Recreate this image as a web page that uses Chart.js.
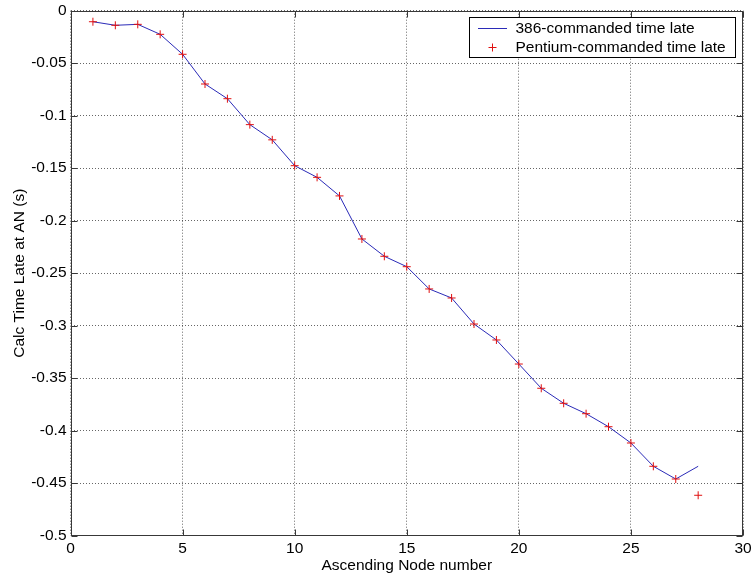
<!DOCTYPE html>
<html>
<head>
<meta charset="utf-8">
<script src="https://cdn.jsdelivr.net/npm/chart.js@4/dist/chart.umd.min.js"></script>
<style>
  html, body { margin: 0; padding: 0; background: #ffffff; }
  #c { display: block; }
</style>
</head>
<body>
<canvas id="c" width="751" height="579"></canvas>
<script>
// ---- Data ----
const nodeNumbers = [1,2,3,4,5,6,7,8,9,10,11,12,13,14,15,16,17,18,19,20,21,22,23,24,25,26,27,28];
const late386 = [-0.0105,-0.0139,-0.0130,-0.0225,-0.0415,-0.0698,-0.0838,-0.1085,-0.1230,-0.1476,
                 -0.1587,-0.1764,-0.2174,-0.2339,-0.2438,-0.2650,-0.2736,-0.2984,-0.3136,-0.3365,
                 -0.3596,-0.3739,-0.3838,-0.3962,-0.4117,-0.4339,-0.4460,-0.4339];
const latePentium = [-0.0105,-0.0139,-0.0130,-0.0225,-0.0415,-0.0698,-0.0838,-0.1085,-0.1230,-0.1476,
                 -0.1587,-0.1764,-0.2174,-0.2339,-0.2438,-0.2650,-0.2736,-0.2984,-0.3136,-0.3365,
                 -0.3596,-0.3739,-0.3838,-0.3962,-0.4117,-0.4339,-0.4460,-0.4615];
const xTickValues = [0,5,10,15,20,25,30];
const xTickLabels = ['0','5','10','15','20','25','30'];
const yTickValues = [0,-0.05,-0.1,-0.15,-0.2,-0.25,-0.3,-0.35,-0.4,-0.45,-0.5];
const yTickLabels = ['0','-0.05','-0.1','-0.15','-0.2','-0.25','-0.3','-0.35','-0.4','-0.45','-0.5'];
const seriesNames = ['386-commanded time late','Pentium-commanded time late'];
const xTitle = 'Ascending Node number';
const yTitle = 'Calc Time Late at AN (s)';

const FONT = 'Liberation Sans, Arial, sans-serif';
const FSIZE = 15.5;
const LINE_COLOR = '#2b2bb8';
const MARK_COLOR = '#e01010';
const AXIS_COLOR = '#383838';

const toPoints = (xs, ys) => xs.map((x, i) => ({x: x, y: ys[i]}));

// Box + inward ticks (MATLAB-like)
const boxPlugin = {
  id: 'boxPlugin',
  beforeDraw(chart) {
    const ctx = chart.ctx;
    ctx.save();
    ctx.fillStyle = '#ffffff';
    ctx.fillRect(0, 0, chart.width, chart.height);
    ctx.restore();
  },
  afterDatasetsDraw(chart) {
    const {ctx, chartArea: a, scales} = chart;
    ctx.save();
    ctx.strokeStyle = AXIS_COLOR;
    ctx.lineWidth = 1;
    const L = Math.round(a.left) + 0.5, R = Math.round(a.right) - 0.5;
    const T = Math.round(a.top) + 0.5, B = Math.round(a.bottom) - 0.5;
    ctx.strokeRect(L, T, R - L, B - T);
    const tl = 6;
    ctx.beginPath();
    xTickValues.forEach(v => {
      const px = Math.round(scales.x.getPixelForValue(v)) + 0.5;
      ctx.moveTo(px, B); ctx.lineTo(px, B - tl);
      ctx.moveTo(px, T); ctx.lineTo(px, T + tl);
    });
    yTickValues.forEach(v => {
      const py = Math.round(scales.y.getPixelForValue(v)) + 0.5;
      ctx.moveTo(L, py); ctx.lineTo(L + tl, py);
      ctx.moveTo(R, py); ctx.lineTo(R - tl, py);
    });
    ctx.stroke();
    ctx.restore();
  },
  afterDraw(chart) {
    // MATLAB-style boxed legend in the top-right corner
    const ctx = chart.ctx;
    const ds = chart.data.datasets;
    const lx = 469.5, ly = 17.5, lw = 266, lh = 40;
    ctx.save();
    ctx.fillStyle = '#ffffff';
    ctx.fillRect(lx, ly, lw, lh);
    ctx.strokeStyle = '#000000';
    ctx.lineWidth = 1;
    ctx.strokeRect(lx, ly, lw, lh);
    ctx.font = FSIZE + 'px ' + FONT;
    ctx.fillStyle = '#000000';
    ctx.textBaseline = 'middle';
    ctx.textAlign = 'left';
    // row 1: line sample
    ctx.strokeStyle = ds[1].borderColor;
    ctx.beginPath();
    ctx.moveTo(478, 28.5); ctx.lineTo(507, 28.5);
    ctx.stroke();
    ctx.fillText(ds[1].label, 515.5, 28.5);
    // row 2: plus marker
    ctx.strokeStyle = ds[0].borderColor;
    ctx.beginPath();
    ctx.moveTo(488.5, 47.5); ctx.lineTo(496.5, 47.5);
    ctx.moveTo(492.5, 43.5); ctx.lineTo(492.5, 51.5);
    ctx.stroke();
    ctx.fillText(ds[0].label, 515.5, 47.5);
    ctx.restore();
  }
};

new Chart(document.getElementById('c'), {
  type: 'scatter',
  data: {
    datasets: [
      {
        label: seriesNames[1],
        data: toPoints(nodeNumbers, latePentium),
        showLine: false,
        pointStyle: 'cross',
        pointRadius: 4,
        pointBorderWidth: 1,
        borderColor: MARK_COLOR,
        backgroundColor: MARK_COLOR,
        order: 0
      },
      {
        label: seriesNames[0],
        data: toPoints(nodeNumbers, late386),
        showLine: true,
        pointRadius: 0,
        borderWidth: 1,
        borderColor: LINE_COLOR,
        backgroundColor: LINE_COLOR,
        tension: 0,
        order: 1
      }
    ]
  },
  options: {
    responsive: false,
    animation: false,
    devicePixelRatio: 1,
    layout: { padding: { top: 10.7, right: 8, left: 0, bottom: 0 } },
    plugins: {
      legend: { display: false },
      tooltip: { enabled: false }
    },
    scales: {
      x: {
        type: 'linear',
        min: 0, max: 30,
        afterBuildTicks: s => { s.ticks = xTickValues.map(v => ({value: v})); },
        afterFit: s => { s.height = 43.3; s.paddingLeft = 0; s.paddingRight = 0; },
        ticks: {
          autoSkip: false,
          maxRotation: 0,
          padding: 4,
          color: '#000000',
          font: { family: FONT, size: FSIZE },
          callback: (v) => xTickLabels[xTickValues.indexOf(v)]
        },
        grid: {
          color: 'rgba(0,0,0,0.6)',
          lineWidth: 1,
          drawTicks: false
        },
        border: { display: false, dash: [1, 2] },
        title: {
          display: true,
          text: xTitle,
          color: '#000000',
          font: { family: FONT, size: FSIZE },
          padding: { top: 0, bottom: 4 }
        }
      },
      y: {
        type: 'linear',
        min: -0.5, max: 0,
        afterBuildTicks: s => { s.ticks = yTickValues.map(v => ({value: v})); },
        afterFit: s => { s.width = 70.5; s.paddingTop = 0; s.paddingBottom = 0; },
        ticks: {
          autoSkip: false,
          padding: 4,
          color: '#000000',
          font: { family: FONT, size: FSIZE },
          callback: (v) => {
            const i = yTickValues.findIndex(t => Math.abs(t - v) < 1e-9);
            return i >= 0 ? yTickLabels[i] : '';
          }
        },
        grid: {
          color: 'rgba(0,0,0,0.6)',
          lineWidth: 1,
          drawTicks: false
        },
        border: { display: false, dash: [1, 2] },
        title: {
          display: true,
          text: yTitle,
          color: '#000000',
          font: { family: FONT, size: FSIZE },
          padding: { top: 10, bottom: 0 }
        }
      }
    }
  },
  plugins: [boxPlugin]
});
</script>
</body>
</html>
